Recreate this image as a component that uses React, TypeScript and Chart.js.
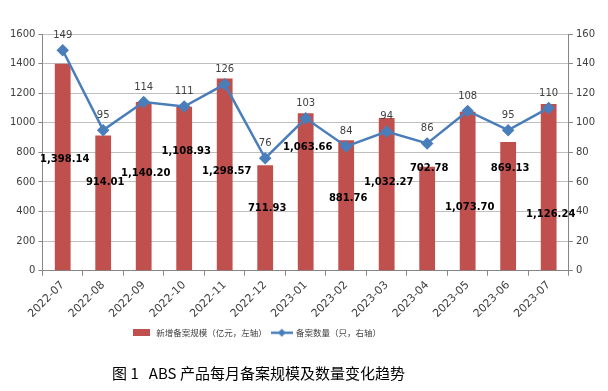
import React, { useEffect, useRef } from 'react';
import { Chart, registerables } from 'chart.js';

Chart.register(...registerables);

const months = [
  '2022-07', '2022-08', '2022-09', '2022-10', '2022-11', '2022-12', '2023-01',
  '2023-02', '2023-03', '2023-04', '2023-05', '2023-06', '2023-07',
];
const filingScale = [
  1398.14, 914.01, 1140.2, 1108.93, 1298.57, 711.93, 1063.66,
  881.76, 1032.27, 702.78, 1073.7, 869.13, 1126.24,
];
const filingCount = [149, 95, 114, 111, 126, 76, 103, 84, 94, 86, 108, 95, 110];
// vertical anchor of each bar's value label, in left-axis units
const barLabelLevels = [750, 600, 660, 805, 668, 423, 830, 490, 600, 694, 430, 694, 381];

const barLegend = '新增备案规模（亿元，左轴）';
const lineLegend = '备案数量（只，右轴）';
const figureTitle = '图 1   ABS 产品每月备案规模及数量变化趋势';

const RED = '#C0504D';
const BLUE = '#4A7EBB';

const fmt2 = (v: number) =>
  v.toLocaleString('en-US', { minimumFractionDigits: 2, maximumFractionDigits: 2 });

function makeBarIcon() {
  const c = document.createElement('canvas');
  c.width = 17;
  c.height = 7;
  const g = c.getContext('2d')!;
  g.fillStyle = RED;
  g.fillRect(0, 0, 17, 7);
  return c;
}

function makeLineIcon() {
  const c = document.createElement('canvas');
  c.width = 22;
  c.height = 10;
  const g = c.getContext('2d')!;
  g.strokeStyle = BLUE;
  g.lineWidth = 2.5;
  g.beginPath();
  g.moveTo(0, 5);
  g.lineTo(22, 5);
  g.stroke();
  g.fillStyle = BLUE;
  g.beginPath();
  g.moveTo(11, 1);
  g.lineTo(15, 5);
  g.lineTo(11, 9);
  g.lineTo(7, 5);
  g.closePath();
  g.fill();
  return c;
}

const valueLabels = {
  id: 'valueLabels',
  afterDatasetsDraw(chart: any) {
    const ctx = chart.ctx;
    const barMeta = chart.getDatasetMeta(0);
    const lineMeta = chart.getDatasetMeta(1);
    const yScale = chart.scales.y;
    ctx.save();
    ctx.textAlign = 'center';
    ctx.textBaseline = 'middle';
    ctx.font = 'bold 10px "DejaVu Sans"';
    ctx.fillStyle = '#000000';
    barMeta.data.forEach((b: any, i: number) => {
      ctx.fillText(fmt2(filingScale[i]), b.x + 2, yScale.getPixelForValue(barLabelLevels[i]));
    });
    ctx.font = '10px "DejaVu Sans"';
    ctx.fillStyle = '#404040';
    lineMeta.data.forEach((p: any, i: number) => {
      ctx.fillText(String(filingCount[i]), p.x, p.y - 15);
    });
    ctx.restore();
  },
};

// legend and caption sit left of the canvas centre in the reference
const shiftCaption = {
  id: 'shiftCaption',
  afterLayout(chart: any) {
    const shifts: [any, number][] = [
      [chart.legend, -46],
      [chart.titleBlock, -44],
    ];
    for (const [box, dx] of shifts) {
      if (box) {
        box.left += dx;
        box.right += dx;
      }
    }
  },
};

export default function App() {
  const ref = useRef<HTMLCanvasElement>(null);

  useEffect(() => {
    if (!ref.current) return;
    const barIcon = makeBarIcon();
    const lineIcon = makeLineIcon();
    const tickFont = { family: '"DejaVu Sans"', size: 10 };
    const chart = new Chart(ref.current, {
      type: 'bar',
      data: {
        labels: months,
        datasets: [
          {
            type: 'bar',
            label: barLegend,
            data: filingScale,
            backgroundColor: RED,
            yAxisID: 'y',
            order: 2,
            barPercentage: 0.78,
            categoryPercentage: 0.5,
          },
          {
            type: 'line',
            label: lineLegend,
            data: filingCount,
            borderColor: BLUE,
            backgroundColor: BLUE,
            borderWidth: 2.5,
            pointStyle: 'rectRot',
            pointRadius: 4.5,
            pointBackgroundColor: BLUE,
            pointBorderColor: BLUE,
            tension: 0,
            yAxisID: 'y1',
            order: 1,
          },
        ] as any,
      },
      options: {
        animation: false,
        responsive: false,
        layout: { padding: { left: 7, right: 10, top: 34, bottom: 4 } },
        scales: {
          x: {
            offset: true,
            grid: {
              offset: true,
              drawOnChartArea: false,
              drawTicks: true,
              tickLength: 5,
              tickColor: '#868686',
            },
            border: { color: '#868686' },
            ticks: {
              minRotation: 45,
              maxRotation: 45,
              color: '#404040',
              font: { family: '"DejaVu Sans"', size: 11 },
            },
          },
          y: {
            position: 'left',
            min: 0,
            max: 1600,
            ticks: {
              stepSize: 200,
              color: '#404040',
              padding: 3,
              font: tickFont,
              callback: (v: any) => String(v),
            },
            grid: { color: '#BFBFBF', tickColor: '#868686', tickLength: 4 },
            border: { color: '#868686' },
          },
          y1: {
            position: 'right',
            min: 0,
            max: 160,
            ticks: {
              stepSize: 20,
              color: '#404040',
              padding: 3,
              font: tickFont,
              callback: (v: any) => String(v),
            },
            grid: { drawOnChartArea: false, tickColor: '#868686', tickLength: 4 },
            border: { color: '#868686' },
          },
        },
        plugins: {
          tooltip: { enabled: false },
          legend: {
            position: 'bottom',
            labels: {
              usePointStyle: true,
              pointStyleWidth: 20,
              boxHeight: 9,
              padding: 5,
              color: '#404040',
              font: { family: '"Noto Sans CJK SC"', size: 8.5 },
              generateLabels: () => [
                {
                  text: barLegend,
                  pointStyle: barIcon as any,
                  fillStyle: RED,
                  strokeStyle: RED,
                  lineWidth: 0,
                  hidden: false,
                  datasetIndex: 0,
                  fontColor: '#404040',
                },
                {
                  text: lineLegend,
                  pointStyle: lineIcon as any,
                  fillStyle: BLUE,
                  strokeStyle: BLUE,
                  lineWidth: 0,
                  hidden: false,
                  datasetIndex: 1,
                  fontColor: '#404040',
                },
              ],
            },
          },
          title: {
            display: true,
            position: 'bottom',
            text: figureTitle,
            color: '#000000',
            font: { family: '"Noto Sans CJK SC"', size: 15, weight: 'normal' },
            padding: { top: 17, bottom: 5 },
          },
        },
      },
      plugins: [valueLabels, shiftCaption],
    });
    return () => chart.destroy();
  }, []);

  return (
    <div style={{ position: 'fixed', left: 0, top: 0, width: 608, height: 391, background: '#fff' }}>
      <canvas ref={ref} width={608} height={391} />
    </div>
  );
}
